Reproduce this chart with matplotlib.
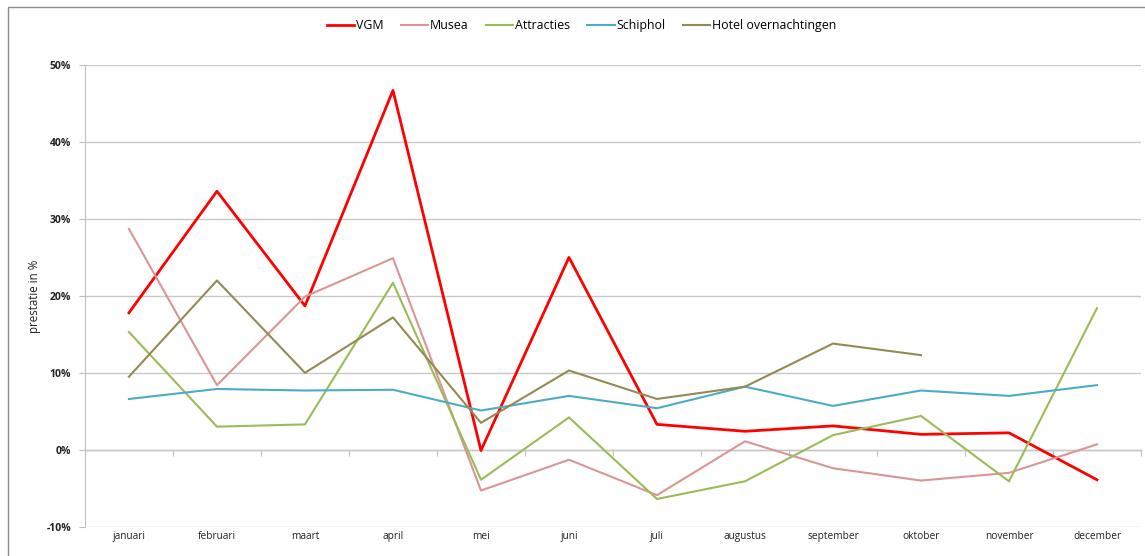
import numpy as np
import matplotlib.pyplot as plt
from matplotlib.patches import Rectangle

plt.rcParams['font.family'] = ['Open Sans', 'DejaVu Sans']

# Data (percent)
months = ['januari', 'februari', 'maart', 'april', 'mei', 'juni', 'juli',
          'augustus', 'september', 'oktober', 'november', 'december']
vgm = [17.8, 33.6, 18.7, 46.7, -0.1, 25.0, 3.3, 2.4, 3.1, 2.0, 2.2, -3.9]
musea = [28.7, 8.4, 19.9, 24.9, -5.3, -1.3, -5.9, 1.1, -2.4, -4.0, -3.0, 0.7]
attracties = [15.3, 3.0, 3.3, 21.7, -3.9, 4.2, -6.4, -4.1, 1.9, 4.4, -4.1, 18.4]
schiphol = [6.6, 7.9, 7.7, 7.8, 5.1, 7.0, 5.4, 8.2, 5.7, 7.7, 7.0, 8.4]
hotel = [9.5, 22.0, 10.0, 17.2, 3.5, 10.3, 6.6, 8.2, 13.8, 12.3, np.nan, np.nan]

series = [
    ('VGM', vgm, '#FF0000', 2.0),
    ('Musea', musea, '#D99694', 1.5),
    ('Attracties', attracties, '#9BBB59', 1.5),
    ('Schiphol', schiphol, '#4BACC6', 1.5),
    ('Hotel overnachtingen', hotel, '#948A54', 1.5),
]

fig = plt.figure(figsize=(11.45, 5.56), dpi=100)
# chart frame (runs off the right and bottom edge like the screenshot)
fig.patches.append(Rectangle((0.007, -0.05), 1.05, 1.037, transform=fig.transFigure,
                             fill=False, edgecolor='#8C8C8C', linewidth=1.0))
ax = fig.add_axes([0.0742, 0.0527, 0.9223, 0.8303])

x = np.arange(len(months))
for name, vals, color, lw in series:
    ax.plot(x, vals, color=color, linewidth=lw, label=name)

ax.set_xlim(-0.5, len(months) - 0.5)
ax.set_ylim(-10, 50)
ax.set_yticks(np.arange(-10, 51, 10))
ax.set_yticklabels([f'{v}%' for v in range(-10, 51, 10)], fontsize=7.5,
                   fontweight='bold', color='#222222')
ax.yaxis.grid(True, color='#C8C8C8', linewidth=1.0)
ax.set_axisbelow(True)
ax.tick_params(axis='y', length=4, color='#C0C0C0', pad=6)

ax.set_xticks(x)
ax.set_xticklabels(months, fontsize=7.3, color='#222222')
ax.tick_params(axis='x', length=0, pad=3)

for side in ['top', 'right', 'bottom']:
    ax.spines[side].set_visible(False)
ax.spines['left'].set_color('#C0C0C0')

# category axis crossing at 0%
sec = ax.secondary_xaxis(10 / 60)
sec.set_xticks(np.arange(-0.5, len(months), 1.0))
sec.set_xticklabels([])
sec.tick_params(length=4, color='#C0C0C0', direction='out')
sec.spines['bottom'].set_color('#C0C0C0')
sec.spines['bottom'].set_linewidth(1.0)

ax.set_ylabel('prestatie in %', fontsize=8.3, color='#222222', labelpad=4)

fig.legend(loc='upper center', bbox_to_anchor=(0.508, 0.985), ncol=5, frameon=False,
           fontsize=8.9, handlelength=2.2, handletextpad=0.15, columnspacing=1.4)

fig.savefig('out.png', dpi=100)
